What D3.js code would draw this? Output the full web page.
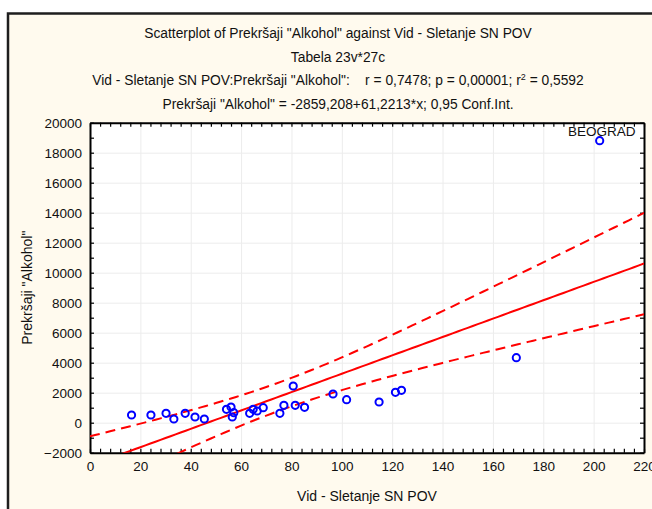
<!DOCTYPE html>
<html>
<head>
<meta charset="utf-8">
<script src="https://cdn.jsdelivr.net/npm/d3@7"></script>
<style>
  body { margin: 0; background: #fff; }
  text { font-family: "Liberation Sans", Arial, sans-serif; white-space: pre; }
</style>
</head>
<body>
<div id="chart"></div>
<script>
  // data
  var xVals = [16.5, 24.2, 30.2, 33.3, 37.8, 41.7, 45.4, 54.2, 56.0, 57.1, 56.5, 63.4, 64.8, 66.4,
               68.8, 75.4, 77.0, 80.7, 81.5, 85.2, 96.5, 101.9, 114.8, 121.3, 123.7, 169.3, 202.4];
  var yVals = [513, 513, 627, 247, 627, 380, 247, 893, 1047, 667, 380, 627, 893, 780,
               1000, 627, 1160, 2447, 1160, 1027, 1913, 1533, 1380, 2027, 2160, 4333, 18800];
  var caseLabels = ["", "", "", "", "", "", "", "", "", "", "", "", "", "",
                    "", "", "", "", "", "", "", "", "", "", "", "", "BEOGRAD"];

  var xTicks = d3.range(0, 221, 20);
  var yTicks = d3.range(-2000, 20001, 2000);

  var titleLines = [
    'Scatterplot of Prekršaji "Alkohol" against Vid - Sletanje SN POV',
    'Tabela 23v*27c',
    'Vid - Sletanje SN POV:Prekršaji "Alkohol":    r = 0,7478; p = 0,00001; r',
    'Prekršaji "Alkohol" = -2859,208+61,2213*x; 0,95 Conf.Int.'
  ];
  var xTitle = "Vid - Sletanje SN POV";
  var yTitle = 'Prekršaji "Alkohol"';

  var intercept = -2859.208, slope = 61.2213;
  var tCrit = 2.0595; // t(0.975, 25)

  var width = 652, height = 509;
  var margin = { top: 122.7, bottom: 56.3, left: 90, right: 8 };

  var svg = d3.select("#chart").append("svg")
      .attr("width", width)
      .attr("height", height);

  // outer frame
  svg.append("rect")
      .attr("x", 8).attr("y", 13.5)
      .attr("width", 700).attr("height", 600)
      .attr("fill", "#fffaee")
      .attr("stroke", "#1e1e1e")
      .attr("stroke-width", 2.5);

  var xScale = d3.scaleLinear()
      .domain([0, 220])
      .range([margin.left, width - margin.right]);
  var yScale = d3.scaleLinear()
      .domain([-2000, 20000])
      .range([height - margin.bottom, margin.top]);

  var x0 = xScale.range()[0], x1 = xScale.range()[1];
  var y0 = yScale.range()[1], y1 = yScale.range()[0];

  svg.append("rect")
      .attr("x", x0).attr("y", y0)
      .attr("width", x1 - x0).attr("height", y1 - y0)
      .attr("fill", "#fff");

  svg.append("clipPath").attr("id", "plotclip")
    .append("rect")
      .attr("x", x0).attr("y", y0)
      .attr("width", x1 - x0).attr("height", y1 - y0);

  // grid
  svg.append("g")
      .attr("transform", "translate(0," + y1 + ")")
      .call(d3.axisBottom(xScale).tickValues(xTicks).tickSize(-(y1 - y0)).tickFormat(""))
      .call(g => g.select(".domain").remove())
      .selectAll("line").attr("stroke", "#ececec");
  svg.append("g")
      .attr("transform", "translate(" + x0 + ",0)")
      .call(d3.axisLeft(yScale).tickValues(yTicks).tickSize(-(x1 - x0)).tickFormat(""))
      .call(g => g.select(".domain").remove())
      .selectAll("line").attr("stroke", "#ececec");

  // minor ticks pointing inward on all sides
  var xMinor = d3.range(0, 221, 4);
  var yMinor = d3.range(-2000, 20001, 1000);
  var frame = svg.append("g");
  frame.append("g").attr("transform", "translate(0," + y1 + ")")
      .call(d3.axisBottom(xScale).tickValues(xMinor).tickSizeInner(-4).tickSizeOuter(0).tickFormat(""));
  frame.append("g").attr("transform", "translate(0," + y0 + ")")
      .call(d3.axisTop(xScale).tickValues(xMinor).tickSizeInner(-4).tickSizeOuter(0).tickFormat(""));
  frame.append("g").attr("transform", "translate(" + x0 + ",0)")
      .call(d3.axisLeft(yScale).tickValues(yMinor).tickSizeInner(-4).tickSizeOuter(0).tickFormat(""));
  frame.append("g").attr("transform", "translate(" + x1 + ",0)")
      .call(d3.axisRight(yScale).tickValues(yMinor).tickSizeInner(-4).tickSizeOuter(0).tickFormat(""));
  frame.selectAll(".domain").attr("stroke", "#000").attr("stroke-width", 2);
  frame.selectAll(".tick line").attr("stroke", "#000").attr("stroke-width", 1.2);

  // tick labels
  svg.append("g").attr("transform", "translate(0," + y1 + ")")
      .call(d3.axisBottom(xScale).tickValues(xTicks).tickSize(0).tickPadding(9).tickFormat(d3.format("d")))
      .call(g => g.select(".domain").remove())
      .selectAll("text").attr("font-size", 13.5).attr("fill", "#111")
      .style("font-family", '"Liberation Sans", Arial, sans-serif');
  svg.append("g").attr("transform", "translate(" + x0 + ",0)")
      .call(d3.axisLeft(yScale).tickValues(yTicks).tickSize(0).tickPadding(8).tickFormat(d3.format("d")))
      .call(g => g.select(".domain").remove())
      .selectAll("text").attr("font-size", 13.5).attr("fill", "#111")
      .style("font-family", '"Liberation Sans", Arial, sans-serif');

  // axis titles
  svg.append("text")
      .attr("x", (x0 + x1) / 2).attr("y", 501)
      .attr("text-anchor", "middle").attr("font-size", 14).attr("fill", "#111")
      .text(xTitle);
  svg.append("text")
      .attr("transform", "translate(32," + ((y0 + y1) / 2) + ") rotate(-90)")
      .attr("text-anchor", "middle").attr("font-size", 14).attr("fill", "#111")
      .text(yTitle);

  // titles
  var titleY = [38, 61.5, 85, 108.5];
  titleLines.forEach(function(t, i) {
    var tx = svg.append("text")
        .attr("x", 338).attr("y", titleY[i])
        .attr("text-anchor", "middle").attr("font-size", 13.8).attr("fill", "#111");
    tx.append("tspan").text(t);
    if (i == 2) {
      tx.append("tspan").attr("font-size", 9).attr("dy", -5).text("2");
      tx.append("tspan").attr("dy", 5).text(" = 0,5592");
    }
  });

  // regression + confidence band
  var n = xVals.length;
  var xbar = d3.mean(xVals);
  var sxx = d3.sum(xVals, d => (d - xbar) * (d - xbar));
  var sse = d3.sum(xVals, (d, i) => Math.pow(yVals[i] - (intercept + slope * d), 2));
  var s = Math.sqrt(sse / (n - 2));
  var band = d3.range(0, 220.5, 2).map(function(x) {
    var yh = intercept + slope * x;
    var h = tCrit * s * Math.sqrt(1 / n + (x - xbar) * (x - xbar) / sxx);
    return { x: x, yh: yh, lo: yh - h, hi: yh + h };
  });

  var plot = svg.append("g").attr("clip-path", "url(#plotclip)");

  plot.append("path").datum(band)
      .attr("d", d3.line().x(d => xScale(d.x)).y(d => yScale(d.yh)))
      .attr("fill", "none").attr("stroke", "#ff0000").attr("stroke-width", 2);
  ["lo", "hi"].forEach(function(k) {
    plot.append("path").datum(band)
        .attr("d", d3.line().x(d => xScale(d.x)).y(d => yScale(d[k])))
        .attr("fill", "none").attr("stroke", "#ff0000").attr("stroke-width", 2)
        .attr("stroke-dasharray", "10,6");
  });

  // points
  var pts = xVals.map((d, i) => ({ x: d, y: yVals[i], label: caseLabels[i] }));
  plot.selectAll("circle").data(pts).enter()
      .append("circle")
      .attr("cx", d => xScale(d.x))
      .attr("cy", d => yScale(d.y))
      .attr("r", 3.6)
      .attr("fill", "none")
      .attr("stroke", "#0000ff")
      .attr("stroke-width", 2);

  svg.selectAll(".caselabel").data(pts.filter(d => d.label)).enter()
      .append("text")
      .attr("class", "caselabel")
      .attr("x", d => xScale(d.x) + 2)
      .attr("y", d => yScale(d.y) - 5)
      .attr("text-anchor", "middle").attr("font-size", 13.5).attr("fill", "#111")
      .text(d => d.label);
</script>
</body>
</html>
